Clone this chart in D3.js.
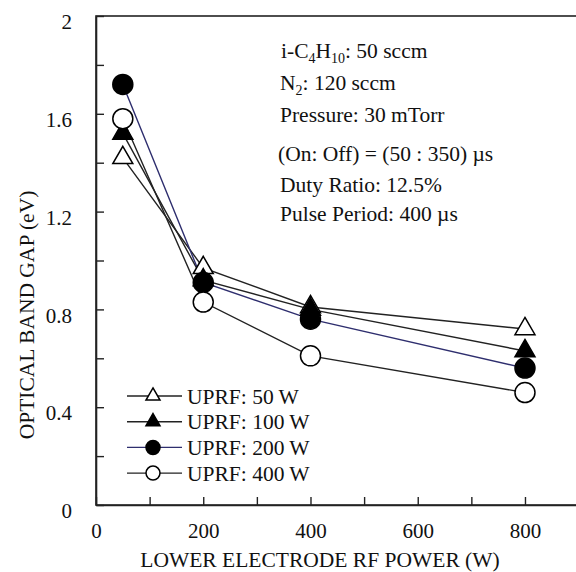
<!DOCTYPE html>
<html>
  <head>
    <meta charset="utf-8">
    <title>Optical band gap vs lower electrode RF power</title>
    <script src="https://d3js.org/d3.v7.min.js"></script>
    <style>
      body { margin: 0; background: #fff; }
      text { font-family: "Liberation Serif", "Times New Roman", serif; fill: #111; }
    </style>
  </head>
  <body>
    <div id="chart"></div>
    <script>
      // data
      var powers = [50, 200, 400, 800];
      var seriesNames = ["UPRF: 50 W", "UPRF: 100 W", "UPRF: 200 W", "UPRF: 400 W"];
      var gap50 = [1.42, 0.97, 0.81, 0.72];
      var gap100 = [1.52, 0.92, 0.80, 0.63];
      var gap200 = [1.72, 0.91, 0.76, 0.56];
      var gap400 = [1.58, 0.83, 0.61, 0.46];

      var xTickValues = [0, 100, 200, 300, 400, 500, 600, 700, 800];
      var xTickLabels = ["0", "", "200", "", "400", "", "600", "", "800"];
      var yTickValues = [0, 0.2, 0.4, 0.6, 0.8, 1.0, 1.2, 1.4, 1.6, 1.8, 2.0];
      var yTickLabels = ["0", "", "0.4", "", "0.8", "", "1.2", "", "1.6", "", "2"];

      var width = 576, height = 572;

      var x = d3.scaleLinear().domain([0, 900]).range([96, 578.6]);
      var y = d3.scaleLinear().domain([0, 2]).range([505, 16]);

      var svg = d3.select("#chart").append("svg")
        .attr("width", width)
        .attr("height", height);

      // frame
      svg.append("rect")
        .attr("x", x(0)).attr("y", y(2))
        .attr("width", x(900) - x(0)).attr("height", y(0) - y(2))
        .style("fill", "none")
        .style("stroke", "#222")
        .style("stroke-width", 1.6);

      var xAxis = svg.append("g")
        .attr("transform", "translate(0," + y(0) + ")")
        .call(d3.axisBottom(x)
          .tickValues(xTickValues)
          .tickFormat(function(d, i) { return xTickLabels[i]; })
          .tickSizeInner(-8).tickSizeOuter(0).tickPadding(18));

      var yAxis = svg.append("g")
        .attr("transform", "translate(" + x(0) + ",0)")
        .call(d3.axisLeft(y)
          .tickValues(yTickValues)
          .tickFormat(function(d, i) { return yTickLabels[i]; })
          .tickSizeInner(-8).tickSizeOuter(0).tickPadding(24));

      [xAxis, yAxis].forEach(function(a) {
        a.select(".domain").style("stroke", "#222").style("stroke-width", 1.6);
        a.selectAll(".tick line").style("stroke", "#222").style("stroke-width", 1.4);
        a.selectAll(".tick text")
          .style("font-family", "'Liberation Serif', 'Times New Roman', serif")
          .style("font-size", "21px")
          .style("fill", "#111");
      });
      yAxis.selectAll(".tick text").attr("dy", "0.6em");

      // axis titles
      svg.append("text")
        .attr("x", 320).attr("y", 567)
        .attr("text-anchor", "middle")
        .style("font-size", "21.5px")
        .text("LOWER ELECTRODE RF POWER (W)");

      svg.append("text")
        .attr("transform", "translate(34,315) rotate(-90)")
        .attr("text-anchor", "middle")
        .style("font-size", "21.5px")
        .text("OPTICAL BAND GAP (eV)");

      // series
      var series = [
        { name: seriesNames[0], values: gap50, shape: "triangle", fill: "#fff", line: "#222" },
        { name: seriesNames[1], values: gap100, shape: "triangle", fill: "#000", line: "#222" },
        { name: seriesNames[2], values: gap200, shape: "circle", fill: "#000", line: "#2e2e6e" },
        { name: seriesNames[3], values: gap400, shape: "circle", fill: "#fff", line: "#222" }
      ];

      var line = d3.line()
        .x(function(d, i) { return x(powers[i]); })
        .y(function(d) { return y(d); });

      series.forEach(function(s) {
        svg.append("path")
          .attr("d", line(s.values))
          .style("fill", "none")
          .style("stroke", s.line)
          .style("stroke-width", 1.4);
      });

      function drawMarker(g, s, cx, cy, big) {
        if (s.shape === "circle") {
          g.append("circle")
            .attr("cx", cx).attr("cy", cy)
            .attr("r", big ? 10 : 7)
            .style("fill", s.fill)
            .style("stroke", "#000")
            .style("stroke-width", 1.5);
        } else {
          var side = big ? 20 : 14;
          g.append("path")
            .attr("transform", "translate(" + cx + "," + cy + ")")
            .attr("d", d3.symbol().type(d3.symbolTriangle).size(Math.sqrt(3) / 4 * side * side)())
            .style("fill", s.fill)
            .style("stroke", "#000")
            .style("stroke-width", 1.5);
        }
      }

      series.forEach(function(s) {
        var g = svg.append("g");
        s.values.forEach(function(v, i) {
          drawMarker(g, s, x(powers[i]), y(v), true);
        });
      });

      // legend
      var legend = svg.append("g");
      series.forEach(function(s, i) {
        var ry = 396 + i * 25.7;
        legend.append("line")
          .attr("x1", 127).attr("x2", 182)
          .attr("y1", ry).attr("y2", ry)
          .style("stroke", s.line)
          .style("stroke-width", 1.4);
        drawMarker(legend, s, 153, ry, false);
        legend.append("text")
          .attr("x", 187).attr("y", ry + 7.5)
          .style("font-size", "21.5px")
          .text(s.name);
      });

      // annotation
      var note = svg.append("g").style("font-size", "21.5px");
      var t1 = note.append("text").attr("x", 281).attr("y", 58);
      t1.append("tspan").text("i-C");
      t1.append("tspan").attr("dy", 5).style("font-size", "14px").text("4");
      t1.append("tspan").attr("dy", -5).text("H");
      t1.append("tspan").attr("dy", 5).style("font-size", "14px").text("10");
      t1.append("tspan").attr("dy", -5).text(": 50 sccm");

      var t2 = note.append("text").attr("x", 280).attr("y", 90);
      t2.append("tspan").text("N");
      t2.append("tspan").attr("dy", 5).style("font-size", "14px").text("2");
      t2.append("tspan").attr("dy", -5).text(": 120 sccm");

      note.append("text").attr("x", 280).attr("y", 122).text("Pressure: 30 mTorr");
      note.append("text").attr("x", 278).attr("y", 161).text("(On: Off) = (50 : 350) \u00b5s");
      note.append("text").attr("x", 280).attr("y", 192).text("Duty Ratio: 12.5%");
      note.append("text").attr("x", 280).attr("y", 221).text("Pulse Period: 400 \u00b5s");
    </script>
  </body>
</html>
